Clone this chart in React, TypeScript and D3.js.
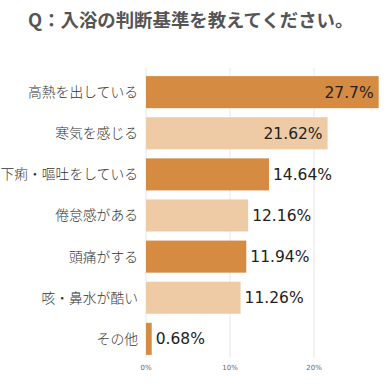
import * as d3 from 'd3';
import { useRef, useEffect } from 'react';

const categories = ['高熱を出している', '寒気を感じる', '下痢・嘔吐をしている', '倦怠感がある', '頭痛がする', '咳・鼻水が酷い', 'その他'];
const values = [27.7, 21.62, 14.64, 12.16, 11.94, 11.26, 0.68];
const valueLabels = ['27.7%', '21.62%', '14.64%', '12.16%', '11.94%', '11.26%', '0.68%'];
const ticks = [0, 10, 20];
const tickLabels = ['0%', '10%', '20%'];

const W = 389;
const H = 390;

export default function App() {
  const svgRef = useRef<SVGSVGElement>(null);

  useEffect(() => {
    const svg = d3.select(svgRef.current);
    svg.selectAll('*').remove();

    const x = d3.scaleLinear().domain([0, 10]).range([146, 230]);
    const y = d3.scaleBand<string>().domain(categories).range([72, 359]).paddingInner(0.22).paddingOuter(0.1);

    svg.append('text')
      .attr('x', 28)
      .attr('y', 27)
      .text('Q：入浴の判断基準を教えてください。')
      .style('font-family', '"Noto Sans CJK JP", sans-serif')
      .style('font-size', '18.4px')
      .style('font-weight', 'bold')
      .style('fill', '#555');

    // grid
    svg.selectAll('.grid')
      .data(ticks)
      .join('line')
      .attr('x1', d => x(d))
      .attr('x2', d => x(d))
      .attr('y1', 68)
      .attr('y2', 358)
      .attr('stroke', '#e6e6e6')
      .attr('stroke-width', 1);

    svg.selectAll('.tick')
      .data(ticks)
      .join('text')
      .attr('x', d => x(d))
      .attr('y', 370)
      .attr('text-anchor', 'middle')
      .text((d, i) => tickLabels[i])
      .style('font-family', '"DejaVu Sans", Verdana, sans-serif')
      .style('font-size', '7px')
      .style('fill', '#666');

    svg.selectAll('.bar')
      .data(values)
      .join('rect')
      .attr('x', x(0))
      .attr('y', (d, i) => y(categories[i])!)
      .attr('width', d => x(d) - x(0))
      .attr('height', y.bandwidth())
      .attr('fill', (d, i) => (i % 2 === 0 ? '#d68b42' : '#eecba5'));

    svg.selectAll('.cat')
      .data(categories)
      .join('text')
      .attr('x', 138)
      .attr('y', d => y(d)! + y.bandwidth() / 2)
      .attr('dy', '0.36em')
      .attr('text-anchor', 'end')
      .text(d => d)
      .style('font-family', '"Noto Sans CJK JP", sans-serif')
      .style('font-size', '13.8px')
      .style('font-weight', '300')
      .style('fill', '#333');

    svg.selectAll('.val')
      .data(values)
      .join('text')
      .attr('x', d => (d > 20 ? x(d) - 5 : x(d) + 4))
      .attr('y', (d, i) => y(categories[i])! + y.bandwidth() / 2)
      .attr('dy', '0.36em')
      .attr('text-anchor', d => (d > 20 ? 'end' : 'start'))
      .text((d, i) => valueLabels[i])
      .style('font-family', '"DejaVu Sans", Verdana, sans-serif')
      .style('font-size', '15.5px')
      .style('fill', '#222');
  }, []);

  return (
    <div style={{ position: 'absolute', left: 0, top: 0, width: W, height: H, background: '#fff' }}>
      <svg ref={svgRef} width={W} height={H}></svg>
    </div>
  );
}
